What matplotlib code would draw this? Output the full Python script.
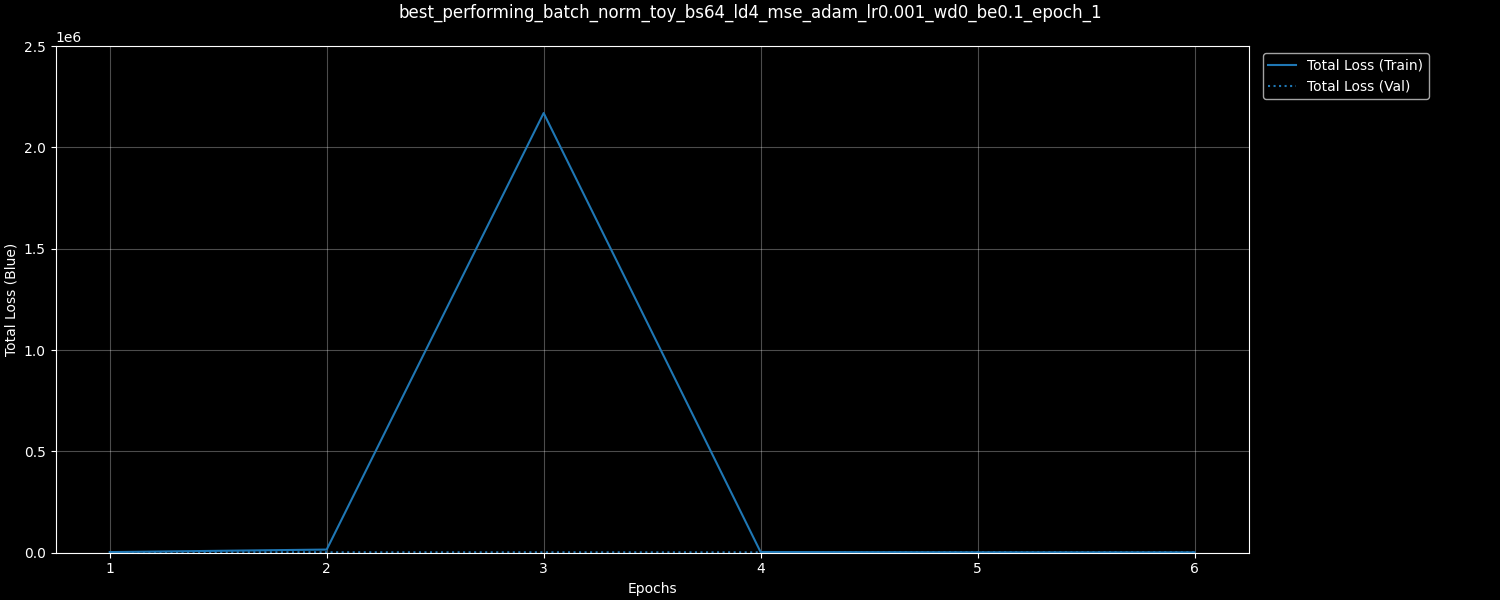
import numpy as np
import matplotlib.pyplot as plt

plt.style.use("dark_background")

epochs = [1, 2, 3, 4, 5, 6]
train_loss = [2500, 15000, 2170000, 3000, 1500, 1200]
val_loss = [1800, 1600, 1500, 1400, 1300, 1200]

title = "best_performing_batch_norm_toy_bs64_ld4_mse_adam_lr0.001_wd0_be0.1_epoch_1"

fig, ax = plt.subplots(figsize=(15, 6), dpi=100)
ax.plot(epochs, train_loss, color="#1f77b4", label="Total Loss (Train)")
ax.plot(epochs, val_loss, color="#1f77b4", linestyle=":", label="Total Loss (Val)")
ax.set_xlabel("Epochs")
ax.set_ylabel("Total Loss (Blue)")
ax.set_ylim(0, 2.5e6)
fig.suptitle(title, y=0.993)
ax.grid(True, alpha=0.3)
ax.legend(loc="upper left", bbox_to_anchor=(1.006, 1))
fig.subplots_adjust(left=0.037, right=0.8325, top=0.923, bottom=0.079)
plt.savefig("out.png", dpi=100)
